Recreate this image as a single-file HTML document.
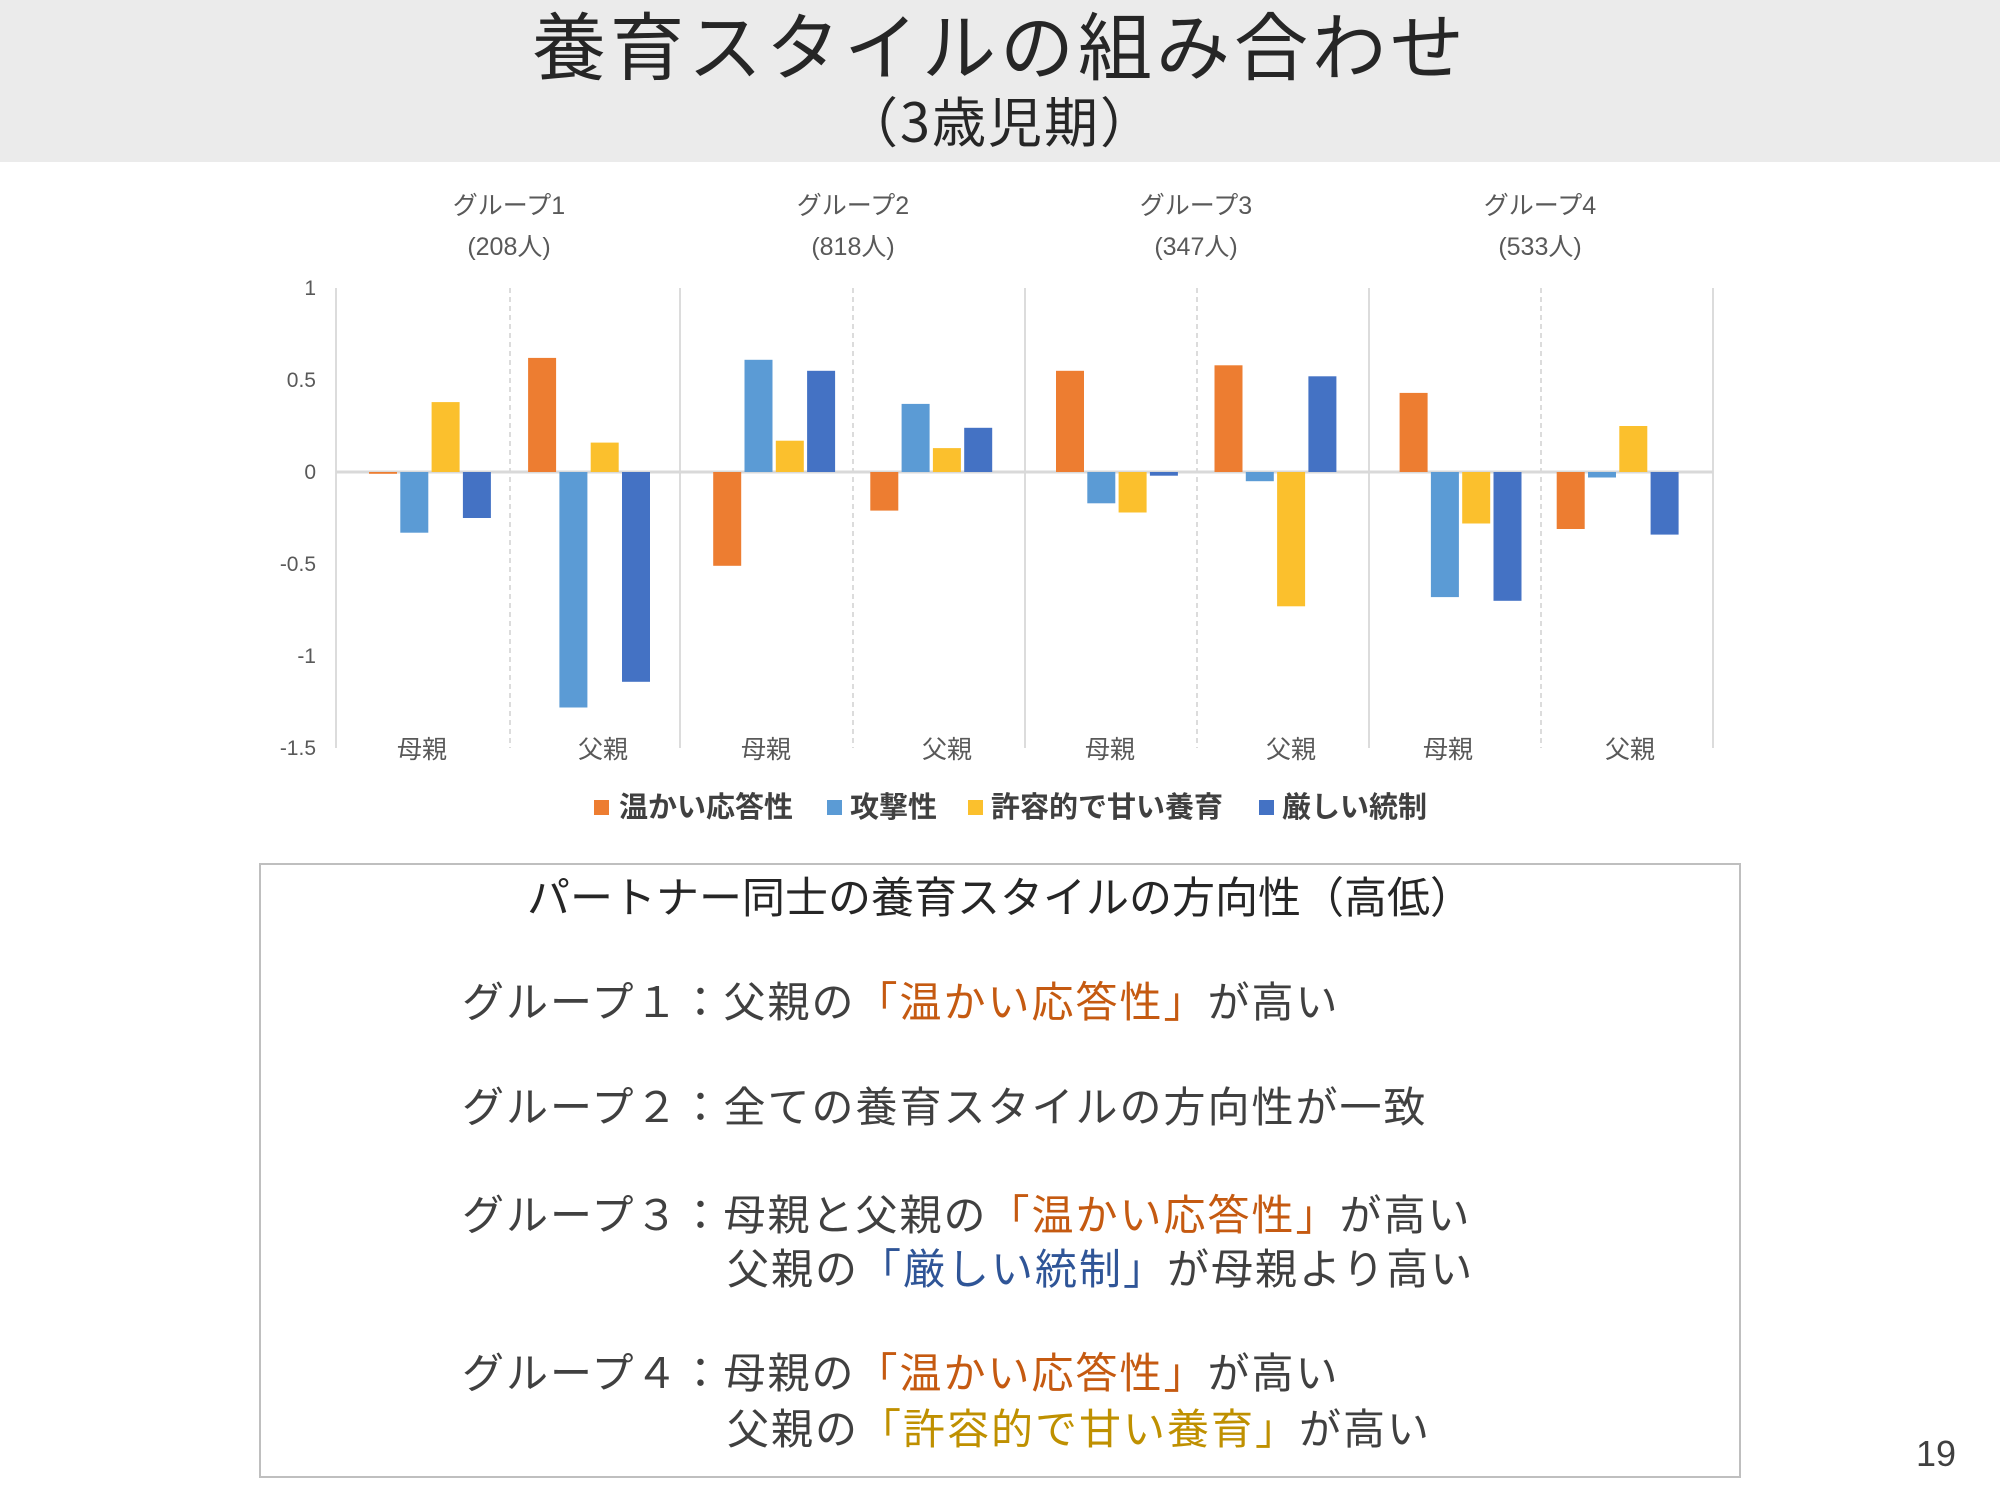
<!DOCTYPE html>
<html><head><meta charset="utf-8"><style>
html,body{margin:0;padding:0;background:#fff;}
body{width:2000px;height:1500px;position:relative;overflow:hidden;font-family:"Liberation Sans","Noto Sans CJK JP",sans-serif;color:#404040;}
.t{position:absolute;white-space:nowrap;line-height:1;}
.o{color:#C55A11;} .b{color:#2F5597;} .y{color:#BF9000;}
</style></head><body>
<div style="position:absolute;left:0;top:0;width:2000px;height:162px;background:#ebebeb;"></div>
<div class="t" style="left:0;width:2000px;text-align:center;top:6px;font-size:74px;letter-spacing:4px;color:#262626;font-family:'Noto Sans CJK JP',sans-serif;">養育スタイルの組み合わせ</div>
<div class="t" style="left:0;width:2000px;text-align:center;top:92px;font-size:54px;letter-spacing:2px;color:#262626;font-family:'Noto Sans CJK JP',sans-serif;">（3歳児期）</div>

<svg width="2000" height="1500" style="position:absolute;left:0;top:0" font-family="Liberation Sans, Noto Sans CJK JP, sans-serif">
<g stroke="#d0d0d0" stroke-width="1.5">
<line x1="336" y1="288" x2="336" y2="748"/><line x1="680" y1="288" x2="680" y2="748"/><line x1="1025" y1="288" x2="1025" y2="748"/><line x1="1369" y1="288" x2="1369" y2="748"/><line x1="1713" y1="288" x2="1713" y2="748"/>
</g>
<g stroke="#d0d0d0" stroke-width="1.5" stroke-dasharray="5,4">
<line x1="510" y1="288" x2="510" y2="748"/><line x1="853" y1="288" x2="853" y2="748"/><line x1="1197" y1="288" x2="1197" y2="748"/><line x1="1541" y1="288" x2="1541" y2="748"/>
</g>
<line x1="336" y1="472" x2="1713" y2="472" stroke="#d9d9d9" stroke-width="3"/>
<g>
<rect x="369" y="472" width="28" height="1.8" fill="#ED7D31"/><rect x="400.3" y="472" width="28" height="60.7" fill="#5B9BD5"/><rect x="431.6" y="402.1" width="28" height="69.9" fill="#FBC02D"/><rect x="462.9" y="472" width="28" height="46" fill="#4472C4"/>
<g transform="translate(-13,0)"><rect x="541.1" y="357.9" width="28" height="114.1" fill="#ED7D31"/><rect x="572.4" y="472" width="28" height="235.5" fill="#5B9BD5"/><rect x="603.7" y="442.6" width="28" height="29.4" fill="#FBC02D"/><rect x="635" y="472" width="28" height="209.8" fill="#4472C4"/></g>
<rect x="713.2" y="472" width="28" height="93.8" fill="#ED7D31"/><rect x="744.5" y="359.8" width="28" height="112.2" fill="#5B9BD5"/><rect x="775.8" y="440.7" width="28" height="31.3" fill="#FBC02D"/><rect x="807.1" y="370.8" width="28" height="101.2" fill="#4472C4"/>
<g transform="translate(-15,0)"><rect x="885.3" y="472" width="28" height="38.6" fill="#ED7D31"/><rect x="916.6" y="403.9" width="28" height="68.1" fill="#5B9BD5"/><rect x="947.9" y="448.1" width="28" height="23.9" fill="#FBC02D"/><rect x="979.2" y="427.8" width="28" height="44.2" fill="#4472C4"/></g>
<rect x="1056" y="370.8" width="28" height="101.2" fill="#ED7D31"/><rect x="1087.3" y="472" width="28" height="31.3" fill="#5B9BD5"/><rect x="1118.6" y="472" width="28" height="40.5" fill="#FBC02D"/><rect x="1149.9" y="472" width="28" height="3.7" fill="#4472C4"/>
<g transform="translate(-15,0)"><rect x="1229.5" y="365.3" width="28" height="106.7" fill="#ED7D31"/><rect x="1260.8" y="472" width="28" height="9.2" fill="#5B9BD5"/><rect x="1292.1" y="472" width="28" height="134.3" fill="#FBC02D"/><rect x="1323.4" y="376.3" width="28" height="95.7" fill="#4472C4"/></g>
<g transform="translate(-2,0)"><rect x="1401.6" y="392.9" width="28" height="79.1" fill="#ED7D31"/><rect x="1432.9" y="472" width="28" height="125.1" fill="#5B9BD5"/><rect x="1464.2" y="472" width="28" height="51.5" fill="#FBC02D"/><rect x="1495.5" y="472" width="28" height="128.8" fill="#4472C4"/></g>
<g transform="translate(-17,0)"><rect x="1573.7" y="472" width="28" height="57" fill="#ED7D31"/><rect x="1605" y="472" width="28" height="5.5" fill="#5B9BD5"/><rect x="1636.3" y="426" width="28" height="46" fill="#FBC02D"/><rect x="1667.6" y="472" width="28" height="62.6" fill="#4472C4"/></g>
</g>
<g font-size="21" fill="#595959" text-anchor="end">
<text x="316" y="295">1</text><text x="316" y="387">0.5</text><text x="316" y="479">0</text><text x="316" y="571">-0.5</text><text x="316" y="663">-1</text><text x="316" y="755">-1.5</text>
</g>
<g font-size="25" fill="#595959" text-anchor="middle">
<text x="509" y="214">グループ1</text><text x="509" y="255">(208人)</text>
<text x="853" y="214">グループ2</text><text x="853" y="255">(818人)</text>
<text x="1196" y="214">グループ3</text><text x="1196" y="255">(347人)</text>
<text x="1540" y="214">グループ4</text><text x="1540" y="255">(533人)</text>
<text x="422" y="758">母親</text><text x="603" y="758">父親</text>
<text x="766" y="758">母親</text><text x="947" y="758">父親</text>
<text x="1110" y="758">母親</text><text x="1291" y="758">父親</text>
<text x="1448" y="758">母親</text><text x="1630" y="758">父親</text>
</g>
<g font-size="29" fill="#404040" font-weight="bold">
<rect x="594" y="800" width="15" height="15" fill="#ED7D31"/><text x="619" y="817">温かい応答性</text>
<rect x="827" y="800" width="15" height="15" fill="#5B9BD5"/><text x="850" y="817">攻撃性</text>
<rect x="968" y="800" width="15" height="15" fill="#FBC02D"/><text x="991" y="817">許容的で甘い養育</text>
<rect x="1259" y="800" width="15" height="15" fill="#4472C4"/><text x="1282" y="817">厳しい統制</text>
</g>
<rect x="260" y="864" width="1480" height="613" fill="none" stroke="#bfbfbf" stroke-width="2"/>
</svg>

<div class="t" style="left:260px;width:1480px;text-align:center;top:878px;font-size:43px;color:#262626;">パートナー同士の養育スタイルの方向性（高低）</div>
<div class="t" style="left:462px;top:982px;font-size:42px;letter-spacing:2px;">グループ１：父親の<span class="o">「温かい応答性」</span>が高い</div>
<div class="t" style="left:462px;top:1087px;font-size:42px;letter-spacing:2px;">グループ２：全ての養育スタイルの方向性が一致</div>
<div class="t" style="left:462px;top:1195px;font-size:42px;letter-spacing:2px;">グループ３：母親と父親の<span class="o">「温かい応答性」</span>が高い</div>
<div class="t" style="left:727px;top:1249px;font-size:42px;letter-spacing:2px;">父親の<span class="b">「厳しい統制」</span>が母親より高い</div>
<div class="t" style="left:462px;top:1353px;font-size:42px;letter-spacing:2px;">グループ４：母親の<span class="o">「温かい応答性」</span>が高い</div>
<div class="t" style="left:727px;top:1409px;font-size:42px;letter-spacing:2px;">父親の<span class="y">「許容的で甘い養育」</span>が高い</div>
<div class="t" style="left:1916px;top:1436px;font-size:36px;color:#404040;">19</div>
</body></html>
